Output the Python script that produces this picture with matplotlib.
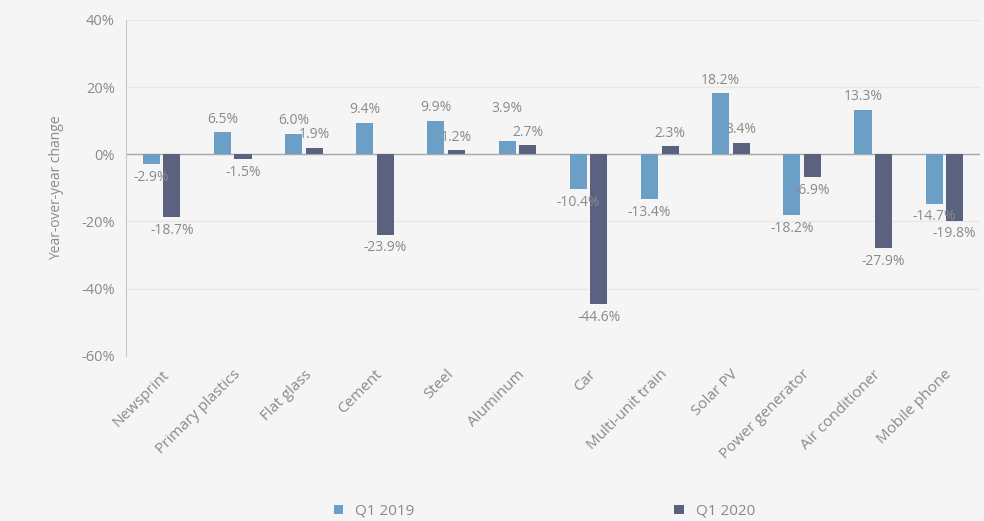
import matplotlib.pyplot as plt
import numpy as np

categories = ['Newsprint', 'Primary plastics', 'Flat glass', 'Cement', 'Steel',
              'Aluminum', 'Car', 'Multi-unit train', 'Solar PV',
              'Power generator', 'Air conditioner', 'Mobile phone']
q1_2019 = [-2.9, 6.5, 6.0, 9.4, 9.9, 3.9, -10.4, -13.4, 18.2, -18.2, 13.3, -14.7]
q1_2020 = [-18.7, -1.5, 1.9, -23.9, 1.2, 2.7, -44.6, 2.3, 3.4, -6.9, -27.9, -19.8]
yticks = [-60, -40, -20, 0, 20, 40]

c2019 = '#6b9fc5'
c2020 = '#5a6280'
txt = '#8a8a8a'

plt.rcParams['font.family'] = ['Open Sans', 'DejaVu Sans']

fig = plt.figure(figsize=(9.84, 5.21), dpi=100, facecolor='#f5f5f5')
ax = fig.add_axes([0.128, 0.317, 0.868, 0.645])
ax.set_facecolor('#f5f5f5')

x = np.arange(len(categories))
w = 0.24
off = 0.145
b1 = ax.bar(x - off, q1_2019, w, color=c2019, label='Q1 2019', zorder=3)
b2 = ax.bar(x + off, q1_2020, w, color=c2020, label='Q1 2020', zorder=3)

# value labels above positive bars, below negative ones
# (Aluminum 2019 label lifted so it clears its neighbour)
lift = {(0, 5): 14}
for k, (bars, vals) in enumerate(((b1, q1_2019), (b2, q1_2020))):
    for i, (b, v) in enumerate(zip(bars, vals)):
        xc = b.get_x() + b.get_width() / 2
        dy = 4 + lift.get((k, i), 0)
        if v >= 0:
            ax.annotate('{:.1f}%'.format(v), (xc, v), xytext=(0, dy),
                        textcoords='offset points', ha='center', va='bottom',
                        fontsize=10, color=txt, zorder=4)
        else:
            ax.annotate('{:.1f}%'.format(v), (xc, v), xytext=(0, -dy),
                        textcoords='offset points', ha='center', va='top',
                        fontsize=10, color=txt, zorder=4)

ax.set_ylim(-60, 40)
ax.set_xlim(-0.5, len(categories) - 0.5)
ax.set_yticks(yticks)
ax.set_yticklabels(['{}%'.format(t) for t in yticks], fontsize=10.5, color=txt)
ax.set_xticks(x)
ax.set_xticklabels(categories, rotation=45, ha='right', rotation_mode='anchor',
                   fontsize=11, color=txt)
ax.tick_params(length=0, pad=8)
ax.set_ylabel('Year-over-year change', fontsize=10, color=txt, labelpad=12)

ax.yaxis.grid(True, color='#e9e9e9', linewidth=1, zorder=0)
ax.axhline(0, color='#a8a8a8', linewidth=1, zorder=2)
for s in ['top', 'right', 'bottom']:
    ax.spines[s].set_visible(False)
ax.spines['left'].set_color('#c8c8c8')

ax.legend(loc='lower center', bbox_to_anchor=(0.49, -0.49), ncol=2, frameon=False,
          fontsize=11, labelcolor=txt, handlelength=0.6, handleheight=0.6,
          columnspacing=17, borderaxespad=0, borderpad=0.1)

fig.savefig('out.png', dpi=100, facecolor=fig.get_facecolor())
